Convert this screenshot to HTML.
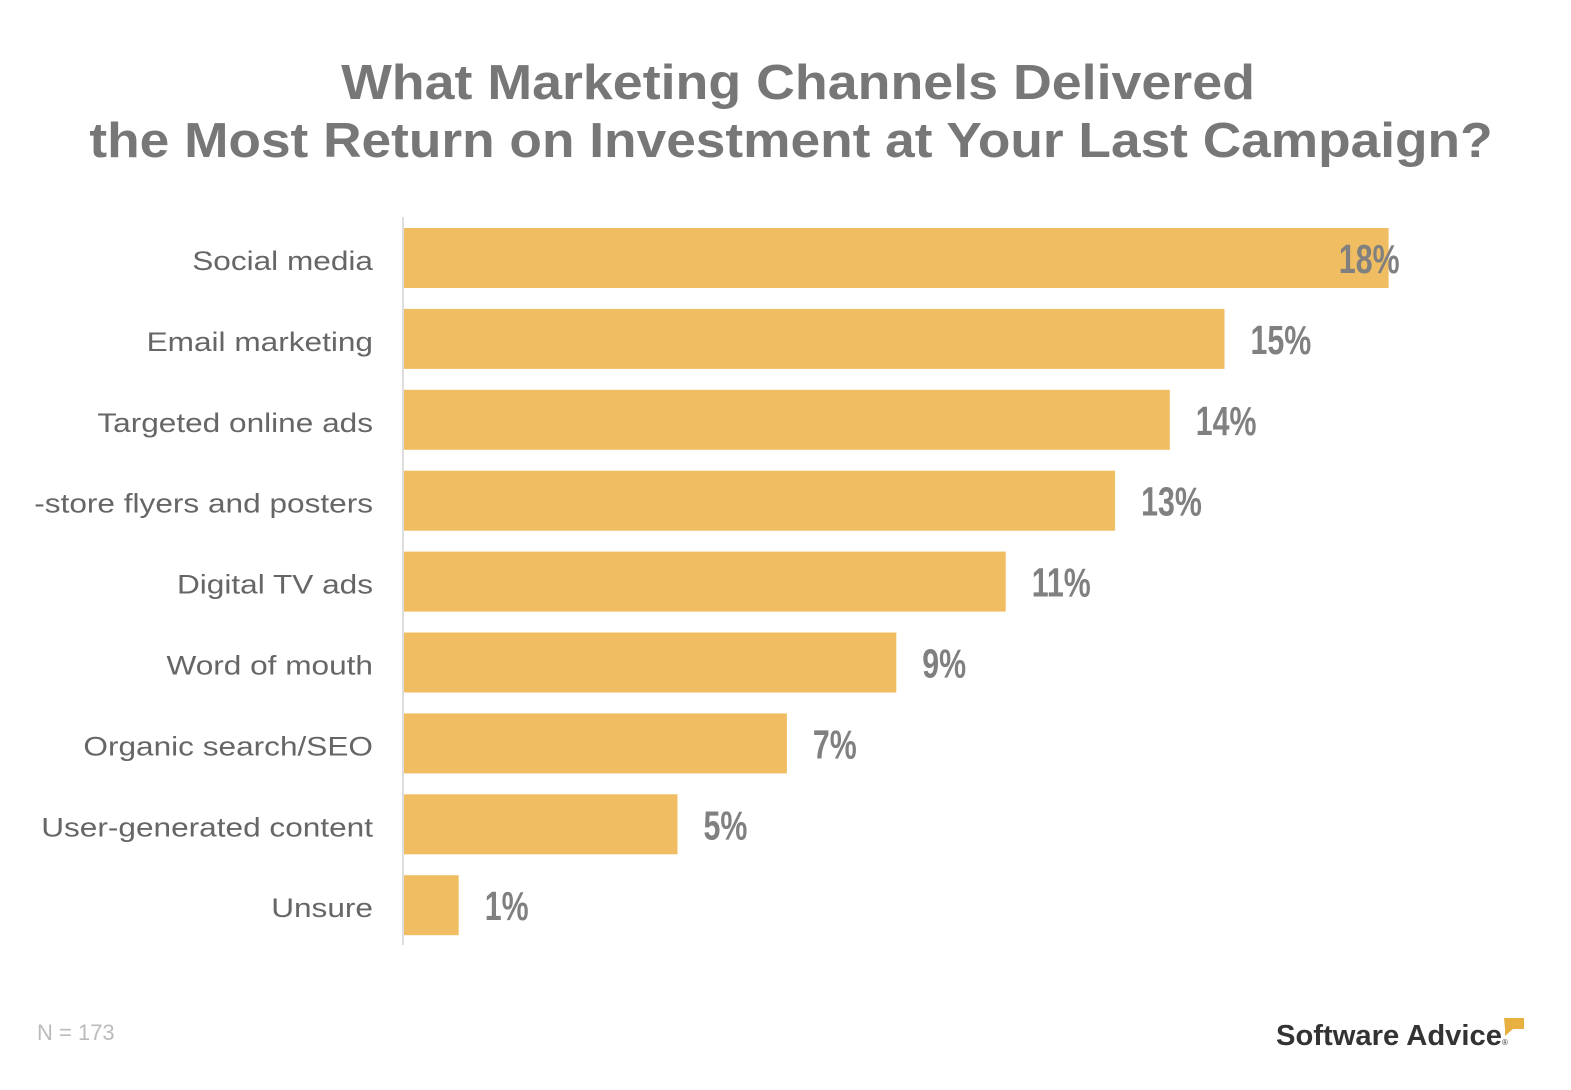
<!DOCTYPE html>
<html><head><meta charset="utf-8"><style>
html,body{margin:0;padding:0;background:#fff;width:1571px;height:1090px;overflow:hidden}
svg{display:block}
</style></head><body>
<svg id="chart" width="1571" height="1090" xmlns="http://www.w3.org/2000/svg">
<g font-family="Liberation Sans, sans-serif" font-weight="bold" font-size="49" fill="#777" text-anchor="middle">
<text transform="translate(798 99) scale(1.097 1)">What Marketing Channels Delivered</text>
<text transform="translate(791 157) scale(1.087 1)">the Most Return on Investment at Your Last Campaign?</text>
</g>
<defs><clipPath id="lc"><rect x="35" y="200" width="360" height="760"/></clipPath></defs>
<line x1="403" y1="217" x2="403" y2="945" stroke="#ddd" stroke-width="2"/>
<g id="cats" clip-path="url(#lc)"></g>
<g id="bars"></g>
<text x="37" y="1040" font-family="Liberation Sans, sans-serif" font-size="22" fill="#bbb">N = 173</text>
<g>
<text x="1276" y="1045" font-family="Liberation Sans, sans-serif" font-weight="bold" font-size="29" fill="#333" textLength="226" lengthAdjust="spacingAndGlyphs">Software Advice</text>
<text x="1502" y="1045" font-family="Liberation Sans, sans-serif" font-size="8" fill="#333">®</text>
<path d="M1504 1018 h20 v11 h-11 l-8 7 v-7 z" fill="#E8B040"/>
</g>
<script>
const categories=["Social media","Email marketing","Targeted online ads","In-store flyers and posters","Digital TV ads","Word of mouth","Organic search/SEO","User-generated content","Unsure"];
const values=[18,15,14,13,11,9,7,5,1];
const valueLabels=["18%","15%","14%","13%","11%","9%","7%","5%","1%"];
const NS="http://www.w3.org/2000/svg";
const x0=404,scale=54.7,top0=228,step=80.9,bh=60;
const xPos=v=>x0+v*scale;
const yPos=i=>top0+i*step;
const gb=document.getElementById('bars'),gc=document.getElementById('cats');
categories.forEach((c,i)=>{
 const y=yPos(i);
 const r=document.createElementNS(NS,'rect');
 r.setAttribute('x',x0);r.setAttribute('y',y);r.setAttribute('width',xPos(values[i])-x0);r.setAttribute('height',bh);r.setAttribute('fill','#F0BD62');
 
 
 gb.appendChild(r);
 const t=document.createElementNS(NS,'text');
 t.textContent=c;
 t.setAttribute('transform','translate(373 '+(y+bh/2+12)+') scale(1.17 1)');
 t.setAttribute('text-anchor','end');
 t.setAttribute('font-family','Liberation Sans, sans-serif');t.setAttribute('font-size','27');t.setAttribute('fill','#666');
 
 
 gc.appendChild(t);
 const v=document.createElementNS(NS,'text');
 v.textContent=valueLabels[i];
 let xe=xPos(values[i]);let lx=xe+26,anchor='start';
 if(lx+60>1420){lx=xe+11;anchor='end';}
 v.setAttribute('text-anchor',anchor);
 v.setAttribute('transform','translate('+lx+' '+(y+bh/2+15)+') scale(0.74 1)');
 v.setAttribute('font-family','Liberation Sans, sans-serif');v.setAttribute('font-weight','bold');v.setAttribute('font-size','41');v.setAttribute('fill','#808080');
 
 
 gb.appendChild(v);
});
</script>
</svg>
</body></html>
